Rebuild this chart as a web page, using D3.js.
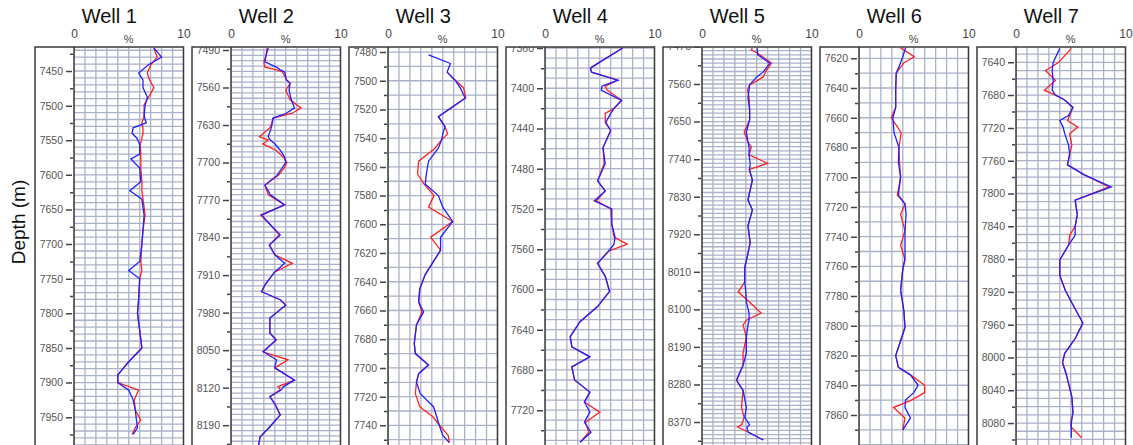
<!DOCTYPE html>
<html><head><meta charset="utf-8">
<script src="https://cdn.jsdelivr.net/npm/d3@7"></script>
<style>body{margin:0;background:#fff;} svg{display:block;font-family:"Liberation Sans",Arial,sans-serif;}</style>
</head><body><svg id="c" width="1133" height="445"></svg>
<script>
const wellNames = ["Well 1","Well 2","Well 3","Well 4","Well 5","Well 6","Well 7"];
const depthTop = [7415.3, 7484.4, 7476.5, 7359, 7471.3, 7612.4, 7621.3];
const depthBottom = [8022, 8268, 7769, 7776.5, 8477.8, 7895, 8133.6];
const tickSteps = [50, 70, 20, 40, 90, 20, 40];
const xTickValues = [0, 10];
const xUnit = "%";
const yLabel = "Depth (m)";

const w1Depth = [7417,7430,7441,7453,7463,7474,7488,7499,7515,7525,7532,7540,7547,7556,7570,7577,7590,7610,7623,7635,7658,7680,7700,7725,7738,7750,7780,7800,7825,7850,7870,7889,7900,7911,7925,7940,7954,7965,7975];
const w1Red   = [7.3,7.6,7.0,6.7,6.9,7.3,6.8,6.4,6.4,6.2,6.3,6.3,6.2,6.05,6.1,6.1,6.1,6.2,6.2,6.3,6.5,6.3,6.2,6.1,6.2,6.0,5.9,5.8,6.0,6.2,5.0,4.0,4.0,5.9,5.5,5.6,6.1,5.6,5.3];
const w1Blue  = [7.3,8.0,6.8,5.9,6.3,6.3,6.7,6.5,6.4,6.6,5.4,5.3,5.75,6.0,6.0,5.2,6.0,6.1,5.1,6.2,6.4,6.3,6.2,6.0,5.0,6.0,5.9,5.8,6.0,6.2,5.0,4.0,4.0,5.0,5.4,5.6,5.7,5.8,5.4];

const w2Depth = [7486,7500,7512,7522,7527,7531,7546,7552,7565,7583,7598,7608,7617,7634,7645,7652,7658,7665,7677,7690,7700,7712,7724,7742,7760,7779,7798,7816,7835,7854,7872,7888,7904,7928,7941,7956,7966,7990,8018,8031,8053,8068,8083,8106,8118,8124,8137,8150,8171,8193,8212,8230];
const w2Red   = [3.3,3.2,3.0,3.1,4.15,4.7,5.1,5.4,5.0,5.4,6.4,5.6,3.85,3.6,3.0,2.6,3.4,2.9,4.1,4.8,5.1,4.8,4.3,3.1,3.4,4.9,2.7,3.6,4.4,3.5,4.0,5.6,4.0,3.1,2.8,4.5,5.0,3.55,3.55,4.15,2.9,5.2,4.0,5.8,4.3,4.5,3.55,4.0,4.5,3.55,2.65,2.5];
const w2Blue  = [3.4,3.2,3.1,4.15,4.5,4.9,5.05,5.4,5.3,5.5,5.8,5.05,3.85,3.7,3.5,3.4,3.6,4.0,4.5,4.9,5.0,4.6,4.2,3.1,3.6,4.9,2.8,3.6,4.5,3.5,4.0,4.9,4.0,3.1,2.8,4.5,5.0,3.55,3.55,4.1,2.95,4.15,4.0,5.8,4.8,4.6,3.55,4.0,4.5,3.55,2.65,2.5];

const w3Depth = [7482,7488,7494,7500,7505,7512,7525,7532,7537,7541,7547,7556,7565,7572,7580,7588,7598,7609,7618,7635,7645,7654,7661,7670,7683,7690,7698,7704,7710,7718,7727,7734,7738,7747,7752];
const w3Red   = [null,null,5.4,6.2,6.9,7.1,4.6,5.2,5.45,4.9,4.3,2.8,2.7,3.3,4.2,3.7,5.9,3.9,4.8,3.4,2.9,2.8,3.1,2.6,2.4,2.5,3.7,2.8,2.6,2.5,2.9,4.1,4.5,5.5,5.6];
const w3Blue  = [3.7,5.7,5.4,6.15,6.6,7.05,4.6,5.2,5.0,4.9,4.6,3.7,3.5,3.4,4.6,5.0,5.9,4.8,4.8,3.4,2.9,2.8,3.25,2.6,2.4,2.5,3.7,2.8,2.6,2.95,4.15,4.45,4.6,5.0,5.6];

const w4Depth = [7360,7374,7380,7384,7392,7398,7402,7412,7420,7425,7434,7442,7459,7475,7492,7502,7512,7520,7535,7548,7555,7562,7574,7587,7602,7617,7632,7647,7657,7667,7677,7690,7702,7712,7722,7732,7742,7752];
const w4Red   = [7.1,5.0,4.15,4.25,6.65,5.5,5.7,7.0,6.3,5.5,5.5,6.0,5.3,5.4,4.8,5.5,4.7,6.0,6.1,6.3,7.5,5.8,4.8,5.5,5.9,4.8,3.2,2.3,2.45,4.1,2.45,2.7,4.1,3.6,5.0,3.7,4.0,3.2];
const w4Blue  = [7.1,5.0,4.15,4.25,6.65,5.2,5.15,7.0,6.3,6.0,5.55,6.0,5.3,5.5,4.8,5.5,4.5,6.1,6.1,6.4,6.3,5.8,4.8,5.5,5.9,4.8,3.2,2.3,2.45,4.1,2.45,2.7,4.1,3.6,4.1,3.6,4.2,3.2];

const w5Depth = [7474,7478,7490,7510,7531,7543,7562,7575,7591,7622,7646,7675,7699,7711,7730,7750,7765,7790,7838,7862,7900,7940,7966,8000,8035,8058,8083,8109,8126,8138,8166,8205,8234,8270,8294,8335,8359,8377,8382,8394,8413];
const w5Red   = [4.6,4.5,5.3,6.35,5.8,5.6,4.35,4.15,4.3,4.35,4.35,3.85,4.2,4.5,4.3,6.0,4.3,4.6,4.2,4.6,4.2,4.4,4.2,3.9,3.9,3.3,4.35,5.4,4.05,3.75,4.05,3.75,3.75,3.15,3.75,3.6,3.85,3.6,3.25,4.2,5.6];
const w5Blue  = [5.05,5.05,5.1,6.2,5.6,5.0,4.35,4.3,4.2,4.35,4.35,4.05,4.2,4.3,4.3,4.4,4.35,4.6,4.2,4.6,4.2,4.4,4.2,3.9,3.9,4.0,4.05,4.3,4.3,4.2,4.05,4.05,3.75,3.15,3.75,4.05,3.9,4.35,4.1,4.2,5.6];

const w6Depth = [7613,7619,7623,7630,7641,7653,7660,7670,7680,7690,7700,7712,7718,7725,7736,7746,7755,7762,7776,7790,7801,7810,7820,7828,7833,7840,7845,7850,7855,7862,7870];
const w6Red   = [3.8,5.05,4.1,3.4,3.35,3.35,2.95,3.85,3.65,3.7,3.8,3.5,4.2,3.8,4.2,3.8,4.2,4.0,3.8,4.1,4.2,3.8,3.35,3.6,4.7,6.0,6.0,4.8,3.15,4.2,4.0];
const w6Blue  = [4.25,4.0,3.8,3.4,3.35,3.35,3.1,3.2,3.65,3.6,3.8,3.6,4.2,4.3,4.2,4.2,4.2,4.0,3.8,4.1,4.2,3.8,3.35,3.6,4.7,5.4,5.0,4.25,4.2,4.7,4.0];

const w7Depth = [7623,7640,7650,7662,7674,7680,7686,7695,7705,7711,7719,7727,7741,7752,7765,7777,7792,7808,7826,7840,7851,7863,7881,7900,7918,7932,7958,7976,7995,8006,8021,8048,8067,8080,8085,8098];
const w7Red   = [5.05,3.9,2.7,3.6,2.6,3.6,4.45,5.2,4.9,4.7,5.65,4.9,5.1,4.9,4.7,6.2,8.5,5.4,5.6,5.4,4.9,4.8,4.0,4.0,4.5,5.05,6.1,5.45,4.45,4.25,4.6,5.1,5.2,5.0,5.05,6.0];
const w7Blue  = [4.0,3.4,3.3,3.4,3.3,3.6,4.45,5.2,4.8,4.0,4.3,4.45,4.8,4.9,4.7,6.2,8.7,5.4,5.6,5.4,5.4,4.8,4.0,4.0,4.5,5.05,6.1,5.45,4.45,4.25,4.6,5.1,5.2,5.05,5.05,5.05];

const wellDepths = [w1Depth,w2Depth,w3Depth,w4Depth,w5Depth,w6Depth,w7Depth];
const wellReds = [w1Red,w2Red,w3Red,w4Red,w5Red,w6Red,w7Red];
const wellBlues = [w1Blue,w2Blue,w3Blue,w4Blue,w5Blue,w6Blue,w7Blue];

const svg = d3.select("#c");
const W = 1133, H = 445;
const TOP = 47, BOTTOM = 467, PANEL0 = 35, PANEL_STEP = 157, LABEL_W = 39, PLOT_W = 109.5;
const gridColor = "#aab2ca", frameColor = "#3a3a3a";

svg.append("text").attr("transform","translate(25,222) rotate(-90)")
  .attr("text-anchor","middle").attr("font-size",19).attr("fill","#111").text(yLabel);

wellNames.forEach((name, i) => {
  const pl = PANEL0 + i*PANEL_STEP;
  const x0 = pl + LABEL_W, x1 = x0 + PLOT_W;
  const x = d3.scaleLinear().domain([0,10]).range([x0,x1]);
  const y = d3.scaleLinear().domain([depthTop[i], depthBottom[i]]).range([TOP, BOTTOM]);
  const g = svg.append("g");
  const clipId = "clip"+i, clipId2 = "clipb"+i;
  const defs = svg.append("defs");
  defs.append("clipPath").attr("id",clipId).append("rect").attr("x",x0).attr("y",TOP).attr("width",PLOT_W).attr("height",BOTTOM-TOP);
  defs.append("clipPath").attr("id",clipId2).append("rect").attr("x",pl).attr("y",TOP).attr("width",x1-pl).attr("height",BOTTOM-TOP);

  g.append("text").attr("x",(pl+x1)/2).attr("y",23).attr("text-anchor","middle")
    .attr("font-size",20).attr("fill","#111").text(name);

  const xa = g.append("g").attr("transform",`translate(0,41)`)
    .call(d3.axisTop(x).tickValues(xTickValues).tickSize(0).tickPadding(3).tickFormat(d3.format("d")));
  xa.select(".domain").remove();
  xa.selectAll("text").attr("font-size",12).attr("fill","#444").attr("font-family","Liberation Sans, Arial, sans-serif");
  g.append("text").attr("x",(x0+x1)/2).attr("y",43).attr("text-anchor","middle")
    .attr("font-size",11).attr("fill","#444").text(xUnit);

  const grid = g.append("g").attr("clip-path",`url(#${clipId})`);
  grid.selectAll("line.v").data(d3.range(0,11,1)).join("line")
    .attr("x1",d=>x(d)).attr("x2",d=>x(d)).attr("y1",TOP).attr("y2",BOTTOM)
    .attr("stroke",gridColor).attr("stroke-width",1.3);
  const hStart = Math.ceil(depthTop[i]/10)*10;
  grid.selectAll("line.h").data(d3.range(hStart, depthBottom[i], 10)).join("line")
    .attr("x1",x0).attr("x2",x1).attr("y1",d=>y(d)).attr("y2",d=>y(d))
    .attr("stroke",gridColor).attr("stroke-width",1.3);

  const step = tickSteps[i];
  const majors = d3.range(Math.ceil(depthTop[i]/step)*step - step, depthBottom[i], step)
    .filter(d => y(d) > TOP-8 && y(d) < H - 7);
  const minors = d3.range(Math.ceil(depthTop[i]/(step/2))*(step/2), depthBottom[i], step/2).filter(d => d % step !== 0);
  const axG = g.append("g").attr("clip-path",`url(#${clipId2})`);
  const ya = axG.append("g").attr("transform",`translate(${x0-2},0)`)
    .call(d3.axisLeft(y).tickValues(majors).tickSize(6).tickPadding(3).tickFormat(d3.format("d")));
  ya.select(".domain").remove();
  ya.selectAll("line").attr("stroke","#444").attr("stroke-width",1.5);
  ya.selectAll("text").attr("font-size",10.5).attr("fill","#555").attr("font-family","Liberation Sans, Arial, sans-serif");
  const ym = axG.append("g").attr("transform",`translate(${x0-1},0)`)
    .call(d3.axisLeft(y).tickValues(minors).tickSize(3).tickFormat(""));
  ym.select(".domain").remove();
  ym.selectAll("line").attr("stroke","#444").attr("stroke-width",1.5);

  const depths = wellDepths[i];
  const mk = vals => d3.line().defined((d,j)=>vals[j]!=null).x((d,j)=>x(vals[j])).y(d=>y(d))(depths);
  const curves = g.append("g").attr("clip-path",`url(#${clipId})`);
  curves.append("path").attr("d",mk(wellReds[i])).attr("fill","none").attr("stroke","#ff2020").attr("stroke-width",1.3);
  curves.append("path").attr("d",mk(wellBlues[i])).attr("fill","none").attr("stroke","#2020ff").attr("stroke-width",1.3);

  g.append("rect").attr("x",pl).attr("y",TOP).attr("width",x1-pl).attr("height",BOTTOM-TOP)
    .attr("fill","none").attr("stroke",frameColor).attr("stroke-width",1.5);
  g.append("line").attr("x1",x0).attr("x2",x0).attr("y1",TOP).attr("y2",BOTTOM)
    .attr("stroke",frameColor).attr("stroke-width",1.5);
});
</script></body></html>
